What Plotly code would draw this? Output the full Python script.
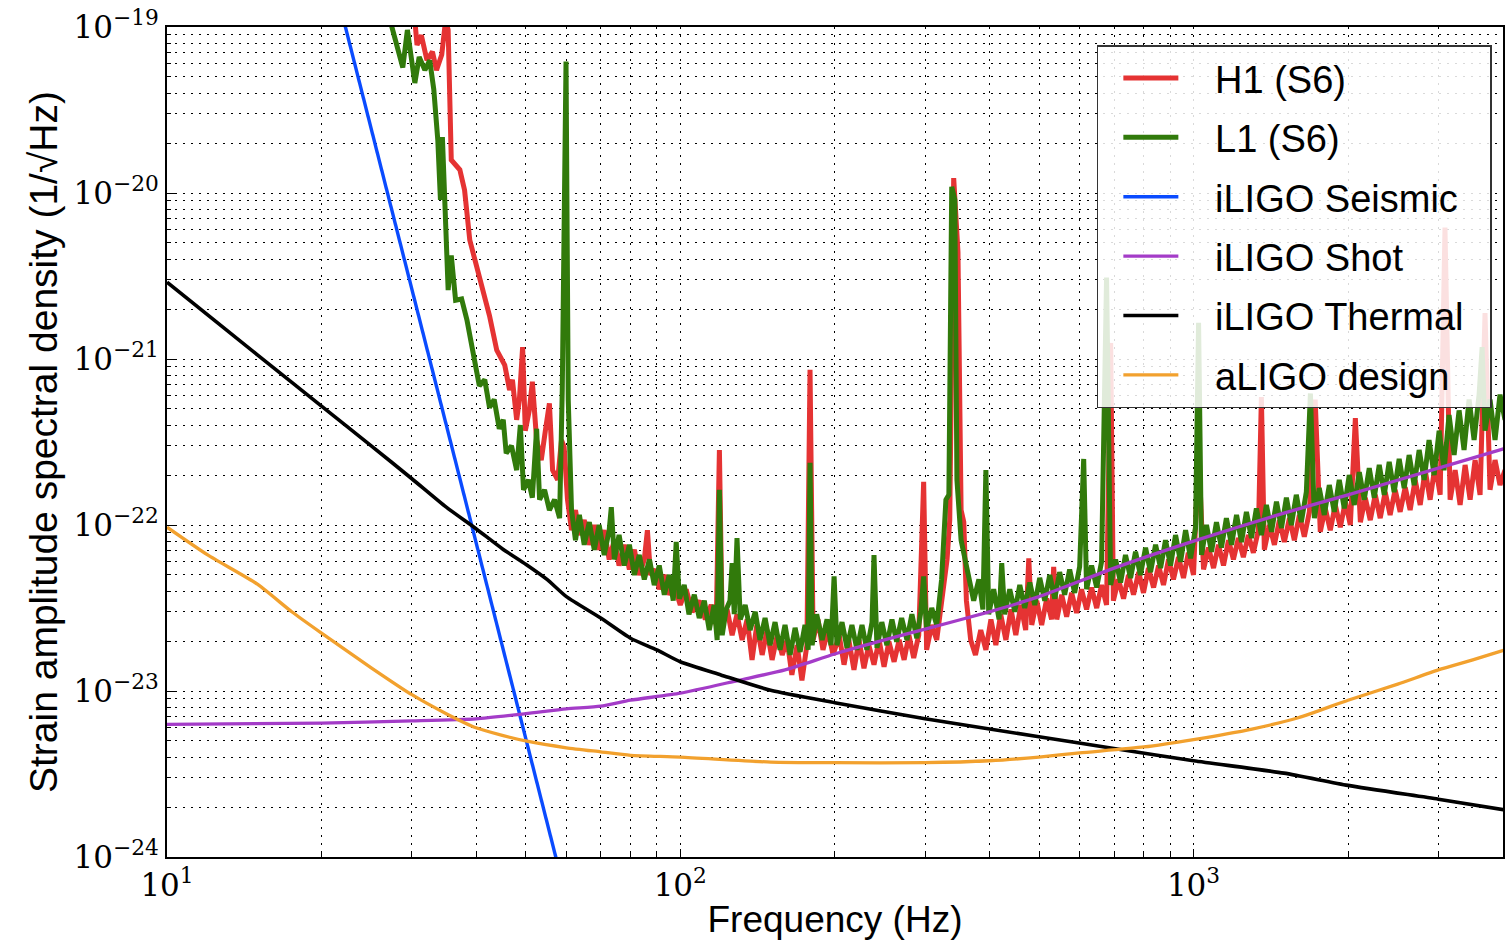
import plotly.graph_objects as go

# ---------------- data ----------------
h1_freq = [30.4, 30.7, 31.3, 32.1, 32.9, 33.5, 34.3, 34.9, 35.3, 35.8, 37.2, 38.0, 38.9, 40.1, 41.2, 42.5,
           43.9, 45.5, 46.5, 47.1, 48.0, 48.6, 49.3, 49.9, 50.8, 51.5, 52.5, 53.6, 54.6, 55.6, 56.4, 57.7,
           58.7, 59.4, 60.3, 61.4, 62.5, 63.6, 65.0, 66.5, 68.0, 69.5, 71.1, 72.7, 74.4, 76.0, 77.8, 79.6,
           81.4, 83.2, 85.1, 86.3, 87.5, 89.4, 91.0, 93.1, 95.2, 97.3, 100, 102.7, 105.5, 108.9, 111.9,
           114.9, 117.5, 119.2, 120.7, 123.4, 126.2, 129.0, 132, 135, 138, 141, 144.4, 147.6, 151, 154.5,
           158, 161.5, 165, 168.9, 172.6, 176.5, 179, 181.5, 185.5, 189.7, 194, 198.5, 204, 208.5, 213,
           218, 223, 228, 233, 238.5, 244, 249.5, 255, 261, 267, 273, 279, 285, 291.5, 298, 302, 309, 316,
           323, 331, 335, 341, 347.6, 352.5, 356.8, 361, 368, 376, 385, 394, 403, 412, 421, 431, 441,
           450.6, 460.8, 471, 477.6, 484, 495, 506, 517.6, 529, 534, 541.5, 553.6, 566, 578.9, 592, 605,
           619, 633, 647.7, 662, 677, 689.6, 698, 714, 730.6, 747, 764, 782, 799, 817, 836, 855, 874, 894,
           914, 935, 956, 977, 1000, 1023, 1046, 1070, 1094, 1118.6, 1144, 1170, 1196, 1223, 1250.5,
           1279, 1308, 1338, 1356, 1374, 1406, 1437.5, 1470, 1503, 1538, 1572, 1608, 1644, 1682, 1726,
           1766, 1806, 1847, 1889, 1932, 1976, 2021, 2067, 2114, 2161, 2210, 2260, 2311, 2363, 2416,
           2471, 2527, 2585, 2643, 2703, 2765, 2827, 2891, 2957, 3024, 3090, 3162, 3234, 3307, 3382,
           3459, 3537, 3617, 3698, 3782, 3868, 3955, 4045]
h1_asd = [1.1e-19, 7.8e-20, 8.9e-20, 6.3e-20, 7.1e-20, 5.5e-20, 6.8e-20, 1.1e-19, 9.6e-20, 1.58e-20,
          1.38e-20, 1.04e-20, 5.2e-21, 3.7e-21, 2.6e-21, 1.82e-21, 1.13e-21, 9.2e-22, 6.5e-22, 7.5e-22,
          4.3e-22, 5.7e-22, 1.18e-21, 3.7e-22, 4.9e-22, 7.3e-22, 3.25e-22, 2.46e-22, 3.7e-22, 5.4e-22,
          2.14e-22, 1.87e-22, 3.25e-22, 2.95e-22, 1.42e-22, 9.3e-23, 1.23e-22, 8.7e-23, 1.07e-22, 7.6e-23,
          1.0e-22, 7.1e-23, 9.3e-23, 6.2e-23, 8.1e-23, 5.7e-23, 7.6e-23, 5.4e-23, 7.1e-23, 5.0e-23, 6.2e-23,
          9.3e-23, 5.0e-23, 5.4e-23, 4.1e-23, 5.0e-23, 3.8e-23, 4.35e-23, 3.3e-23, 4.1e-23, 3.0e-23, 3.5e-23,
          2.7e-23, 3.3e-23, 2.5e-23, 2.83e-22, 2.5e-23, 3.1e-23, 2.17e-23, 2.9e-23, 2.03e-23, 2.7e-23,
          1.54e-23, 2.5e-23, 1.65e-23, 2.33e-23, 1.54e-23, 2.17e-23, 1.65e-23, 2.03e-23, 1.25e-23, 1.89e-23,
          1.16e-23, 1.89e-23, 8.6e-22, 2.03e-23, 2.7e-23, 1.77e-23, 2.33e-23, 1.65e-23, 2.17e-23, 1.44e-23,
          2.03e-23, 1.34e-23, 2.03e-23, 1.37e-23, 1.89e-23, 1.44e-23, 2.03e-23, 1.4e-23, 1.98e-23, 1.5e-23,
          2.03e-23, 1.54e-23, 2.17e-23, 1.58e-23, 2.17e-23, 1.82e-22, 1.77e-23, 2.5e-23, 2.03e-23, 3.5e-23,
          6.2e-23, 1.07e-22, 1.23e-20, 4.4e-21, 1.23e-22, 1.04e-22, 3.5e-23, 2.03e-23, 1.65e-23, 2.33e-23,
          1.77e-23, 2.7e-23, 1.89e-23, 2.9e-23, 2.03e-23, 3.1e-23, 2.17e-23, 3.3e-23, 2.33e-23, 6.3e-23,
          2.5e-23, 3.5e-23, 2.5e-23, 3.6e-23, 2.7e-23, 5.6e-23, 2.7e-23, 3.8e-23, 2.8e-23, 3.9e-23, 2.95e-23,
          4.1e-23, 3.1e-23, 4.2e-23, 3.16e-23, 4.35e-23, 3.3e-23, 1.25e-21, 3.5e-23, 4.7e-23, 3.6e-23,
          5.0e-23, 3.8e-23, 5.2e-23, 3.9e-23, 5.5e-23, 4.2e-23, 5.7e-23, 4.35e-23, 6.2e-23, 4.7e-23, 6.4e-23,
          4.8e-23, 6.8e-23, 5.0e-23, 2.83e-22, 5.4e-23, 7.3e-23, 5.5e-23, 7.6e-23, 5.7e-23, 8.1e-23, 6.2e-23,
          8.35e-23, 6.4e-23, 8.7e-23, 6.8e-23, 9.3e-23, 5.9e-22, 7.1e-23, 1.0e-22, 7.6e-23, 1.07e-22,
          7.9e-23, 1.1e-22, 8.1e-23, 1.15e-22, 8.5e-23, 1.2e-22, 5.7e-22, 9.1e-23, 1.26e-22, 9.3e-23,
          1.32e-22, 9.7e-23, 1.38e-22, 1.0e-22, 4.4e-22, 1.04e-22, 1.46e-22, 1.07e-22, 1.52e-22, 1.1e-22,
          1.58e-22, 1.15e-22, 1.63e-22, 1.2e-22, 1.69e-22, 1.23e-22, 1.87e-22, 1.32e-22, 2.14e-22, 1.42e-22,
          2.3e-22, 1.52e-22, 6.2e-21, 1.42e-22, 2.14e-22, 1.32e-22, 2.3e-22, 1.42e-22, 2.46e-22, 1.52e-22,
          1.89e-21, 1.63e-22, 2.46e-22, 1.74e-22, 2.14e-22]

l1_freq = [27.2, 28.0, 28.8, 29.4, 30.0, 30.4, 31.0, 31.8, 32.5, 33.1, 33.7, 34.1, 34.4, 34.9, 35.3, 35.8,
           36.5, 37.5, 38.4, 39.4, 40.6, 41.6, 42.5, 43.4, 44.4, 45.2, 45.8, 46.9, 48.0, 48.8, 49.5, 50.6,
           51.5, 52.5, 53.2, 54.4, 55.6, 56.9, 58.2, 58.9, 59.9, 60.5, 61.4, 62.5, 63.6, 65.0, 66.5, 68.0,
           69.5, 71.1, 72.7, 73.4, 74.4, 76.0, 77.8, 79.6, 81.4, 83.2, 85.1, 87.1, 89.0, 91.0, 93.1, 95.2,
           96.9, 98.2, 99.6, 101.8, 104, 106.5, 108.9, 111.4, 113.9, 116.4, 118, 119.2, 120.7, 122.9, 125,
           126.2, 127.4, 129, 130.9, 133.8, 136.8, 140, 143, 146.3, 149.6, 153, 156.5, 160, 163.7, 167.4,
           171.2, 175, 177.5, 179, 180.7, 184.4, 189, 193.2, 196.7, 199.4, 202, 206.6, 211.3, 216, 221,
           226, 231, 236.4, 238.5, 241.7, 247, 252.7, 258.5, 264, 270, 276.5, 282.7, 289, 294.3, 298, 302,
           309, 316, 323, 329.3, 333.7, 338, 342.7, 346, 352.5, 358.4, 365, 373, 381.8, 388.7, 394, 399,
           408, 418, 423, 428.6, 438.5, 448.6, 458.7, 469, 479.8, 490.6, 501.6, 513, 524.7, 536.6, 548.5,
           561, 573.7, 586.7, 600, 611, 619, 633, 647.7, 662, 677, 689.6, 705, 721, 737, 754, 771, 788,
           806.5, 824.7, 843.5, 862.6, 882, 902, 922.6, 943.5, 965, 987, 1009, 1023, 1036.6, 1060, 1084,
           1108.5, 1133.5, 1159, 1186, 1213, 1240, 1268, 1297, 1326, 1356, 1387, 1419, 1451, 1484, 1517,
           1551, 1586, 1622, 1659, 1689.5, 1720, 1758, 1798, 1839, 1880.5, 1923, 1967, 2011, 2057, 2104,
           2151, 2200, 2250, 2301, 2353, 2406, 2460, 2516, 2573, 2631, 2691, 2752, 2814, 2877, 2943, 3010,
           3077, 3147, 3219, 3292, 3366, 3443, 3521, 3601, 3650, 3698, 3782, 3868, 3955, 4045]
l1_asd = [1.1e-19, 7.8e-20, 5.7e-20, 9.6e-20, 6.3e-20, 4.6e-20, 6.6e-20, 5.5e-20, 6.3e-20, 4.2e-20,
          2.08e-20, 9.1e-21, 2.17e-20, 7.9e-21, 2.6e-21, 4.2e-21, 2.26e-21, 2.3e-21, 1.72e-21, 1.13e-21,
          6.9e-22, 7.5e-22, 5.1e-22, 5.7e-22, 3.8e-22, 4.3e-22, 2.7e-22, 3.0e-22, 2.14e-22, 4.0e-22,
          1.63e-22, 1.87e-22, 1.46e-22, 3.8e-22, 1.42e-22, 1.63e-22, 1.23e-22, 1.42e-22, 1.1e-22, 6.5e-22,
          6.2e-20, 5.7e-22, 1.23e-22, 8.1e-23, 1.15e-22, 7.6e-23, 1.04e-22, 7.1e-23, 1.0e-22, 6.6e-23,
          9.3e-23, 1.28e-22, 6.2e-23, 8.7e-23, 5.7e-23, 7.6e-23, 5.0e-23, 6.6e-23, 4.7e-23, 6.2e-23,
          4.35e-23, 5.7e-23, 3.8e-23, 5.0e-23, 3.5e-23, 7.9e-23, 3.6e-23, 4.35e-23, 2.9e-23, 3.8e-23,
          2.75e-23, 3.5e-23, 2.33e-23, 3.3e-23, 2.03e-23, 1.63e-22, 2.17e-23, 3.1e-23, 3.5e-23, 5.9e-23,
          2.9e-23, 8.35e-23, 2.7e-23, 3.3e-23, 2.33e-23, 3.0e-23, 2.03e-23, 2.75e-23, 1.89e-23, 2.6e-23,
          1.77e-23, 2.5e-23, 1.65e-23, 2.4e-23, 1.72e-23, 2.5e-23, 1.77e-23, 2.37e-22, 1.89e-23, 2.9e-23,
          2.03e-23, 2.7e-23, 1.89e-23, 4.9e-23, 1.89e-23, 2.6e-23, 1.82e-23, 2.5e-23, 1.77e-23, 2.5e-23,
          1.77e-23, 2.6e-23, 6.6e-23, 1.82e-23, 2.6e-23, 1.89e-23, 2.7e-23, 1.98e-23, 2.75e-23, 2.03e-23,
          2.9e-23, 2.08e-23, 3.0e-23, 4.9e-23, 2.33e-23, 3.16e-23, 2.5e-23, 4.7e-23, 1.42e-22, 1.52e-22,
          1.09e-20, 9.1e-21, 1.87e-22, 8.1e-23, 6.2e-23, 5.0e-23, 3.5e-23, 4.7e-23, 3.1e-23, 2.14e-22,
          2.9e-23, 4.1e-23, 2.7e-23, 5.9e-23, 2.9e-23, 4.1e-23, 3.0e-23, 4.35e-23, 3.16e-23, 4.5e-23,
          3.3e-23, 4.8e-23, 3.5e-23, 5.0e-23, 3.6e-23, 5.2e-23, 3.8e-23, 5.4e-23, 3.9e-23, 5.6e-23,
          2.5e-22, 4.1e-23, 5.7e-23, 4.2e-23, 6.0e-23, 3.1e-21, 4.35e-23, 6.2e-23, 4.5e-23, 6.6e-23,
          4.8e-23, 6.9e-23, 5.0e-23, 7.3e-23, 5.2e-23, 7.6e-23, 5.5e-23, 8.1e-23, 5.7e-23, 8.7e-23,
          6.0e-23, 9.3e-23, 6.3e-23, 9.6e-23, 1.65e-21, 6.6e-23, 1.0e-22, 6.9e-23, 1.04e-22, 7.3e-23,
          1.1e-22, 7.6e-23, 1.15e-22, 7.9e-23, 1.2e-22, 8.35e-23, 1.26e-22, 8.7e-23, 1.32e-22, 9.1e-23,
          1.38e-22, 9.6e-23, 1.46e-22, 1.0e-22, 1.52e-22, 1.04e-22, 1.58e-22, 6.2e-22, 1.1e-22, 1.67e-22,
          1.15e-22, 1.74e-22, 1.2e-22, 1.87e-22, 1.26e-22, 2.0e-22, 1.32e-22, 2.08e-22, 1.42e-22, 2.2e-22,
          1.46e-22, 2.3e-22, 1.52e-22, 2.4e-22, 1.58e-22, 2.5e-22, 1.67e-22, 2.64e-22, 1.74e-22, 2.83e-22,
          1.87e-22, 3.25e-22, 2.0e-22, 3.7e-22, 2.14e-22, 4.6e-22, 2.64e-22, 4.9e-22, 2.83e-22, 5.7e-22,
          3.25e-22, 6.1e-22, 1.18e-21, 3.7e-22, 5.7e-22, 3.25e-22, 6.1e-22, 4.3e-22]

seismic_freq = [20, 30, 40, 50, 60]
seismic_asd = [3.7e-19, 2.6e-21, 8.0e-23, 5.2e-24, 5.6e-25]

shot_freq = [10, 20, 30, 40, 50, 60, 70, 80, 100, 130, 160, 200, 250, 300, 400, 500, 700, 1000,
             1500, 2000, 3000, 4050]
shot_asd = [6.3e-24, 6.4e-24, 6.6e-24, 6.8e-24, 7.3e-24, 7.8e-24, 8.1e-24, 8.8e-24, 9.7e-24, 1.16e-23,
            1.34e-23, 1.67e-23, 2.03e-23, 2.36e-23, 3.0e-23, 3.7e-23, 5.5e-23, 8.0e-23, 1.18e-22,
            1.52e-22, 2.2e-22, 2.9e-22]

thermal_freq = [10, 15, 20, 25, 30, 35, 40, 45, 50, 55, 60, 70, 80, 90, 100, 120, 150, 200, 300, 500,
                700, 1000, 1500, 2000, 3000, 4050]
thermal_asd = [2.9e-21, 1.06e-21, 5.2e-22, 3.0e-22, 1.9e-22, 1.28e-22, 9.5e-23, 7.2e-23, 5.8e-23,
               4.7e-23, 3.7e-23, 2.75e-23, 2.08e-23, 1.77e-23, 1.5e-23, 1.25e-23, 1.01e-23, 8.5e-24,
               6.8e-24, 5.3e-24, 4.5e-24, 3.8e-24, 3.2e-24, 2.7e-24, 2.23e-24, 1.92e-24]

aligo_freq = [10, 12, 15, 17.5, 20, 25, 30, 35, 40, 45, 50, 60, 70, 80, 100, 150, 200, 300, 400, 500,
              600, 800, 1000, 1300, 1600, 2000, 2500, 3000, 3500, 4050]
aligo_asd = [9.7e-23, 6.6e-23, 4.4e-23, 3.0e-23, 2.23e-23, 1.38e-23, 9.5e-24, 7.3e-24, 6.0e-24, 5.4e-24,
             5.0e-24, 4.55e-24, 4.3e-24, 4.1e-24, 4.0e-24, 3.73e-24, 3.7e-24, 3.7e-24, 3.8e-24, 4.0e-24,
             4.24e-24, 4.6e-24, 5.1e-24, 5.9e-24, 6.9e-24, 8.8e-24, 1.1e-23, 1.34e-23, 1.54e-23, 1.77e-23]

x_tick_vals = [10, 100, 1000]
x_tick_text = ["10<sup>1</sup>", "10<sup>2</sup>", "10<sup>3</sup>"]
y_tick_vals = [1e-24, 1e-23, 1e-22, 1e-21, 1e-20, 1e-19]
y_tick_text = ["10<sup>\u221224</sup>", "10<sup>\u221223</sup>", "10<sup>\u221222</sup>",
               "10<sup>\u221221</sup>", "10<sup>\u221220</sup>", "10<sup>\u221219</sup>"]

legend_names = ["H1 (S6)", "L1 (S6)", "iLIGO Seismic", "iLIGO Shot", "iLIGO Thermal", "aLIGO design"]

# ---------------- figure ----------------
# (x, y, colour, width, line shape)
series = [
    (h1_freq, h1_asd, "#e53333", 5.0, "linear"),
    (l1_freq, l1_asd, "#317a0b", 5.0, "linear"),
    (seismic_freq, seismic_asd, "#0a4bff", 3.4, "linear"),
    (shot_freq, shot_asd, "#a43cc8", 3.3, "spline"),
    (thermal_freq, thermal_asd, "#000000", 3.6, "spline"),
    (aligo_freq, aligo_asd, "#f2a12e", 3.3, "spline"),
]

fig = go.Figure()
pad = "\u00a0\u00a0\u00a0"
for i, ((fx, fy, col, w, shp), name) in enumerate(zip(series, legend_names)):
    line = dict(color=col, width=w, shape=shp)
    if shp == "spline":
        line["smoothing"] = 0.6
    fig.add_trace(go.Scatter(x=fx, y=fy, mode="lines", name=pad + name + "\u00a0\u00a0",
                             legendgroup=f"g{i}", line=line, hoverinfo="skip"))

minor_x = [m * 10 ** e for e in range(1, 4) for m in range(2, 10)]
minor_y = [m * 10.0 ** e for e in range(-24, -19) for m in range(2, 10)]

grid_style = dict(showgrid=True, gridcolor="black", gridwidth=1.3, griddash="2px,6px")

fig.update_layout(
    width=1507, height=945,
    margin=dict(l=167, r=2, t=27, b=88),
    paper_bgcolor="white", plot_bgcolor="white",
    font=dict(family="Liberation Sans", color="black"),
    legend=dict(x=0.696, y=0.978, xanchor="left", yanchor="top",
                bgcolor="rgba(255,255,255,0.85)", bordercolor="#333333", borderwidth=1.5,
                font=dict(family="Liberation Sans", size=38, color="black"),
                traceorder="grouped", tracegroupgap=7, itemwidth=55, indentation=20),
    showlegend=True,
)
fig.update_xaxes(
    type="log", range=[1, 3.603],
    showline=True, mirror=True, linecolor="black", linewidth=2,
    ticks="inside", ticklen=8, tickcolor="black", tickwidth=1.2,
    tickvals=x_tick_vals, ticktext=x_tick_text,
    tickfont=dict(family="DejaVu Serif", size=31, color="black"),
    zeroline=False,
    minor=dict(tickvals=minor_x, ticks="inside", ticklen=4, tickcolor="black", **grid_style),
    title=dict(text="Frequency (Hz)", font=dict(family="Liberation Sans", size=37, color="black"),
               standoff=4),
    **grid_style,
)
fig.update_yaxes(
    type="log", range=[-24, -19],
    showline=True, mirror=True, linecolor="black", linewidth=2,
    ticks="inside", ticklen=8, tickcolor="black", tickwidth=1.2,
    tickvals=y_tick_vals, ticktext=y_tick_text,
    tickfont=dict(family="DejaVu Serif", size=31, color="black"),
    zeroline=False,
    minor=dict(tickvals=minor_y, ticks="inside", ticklen=4, tickcolor="black", **grid_style),
    title=dict(text="Strain amplitude spectral density (1/\u221aHz)",
               font=dict(family="Liberation Sans", size=39, color="black"), standoff=4),
    **grid_style,
)

fig.write_html("out.html")
